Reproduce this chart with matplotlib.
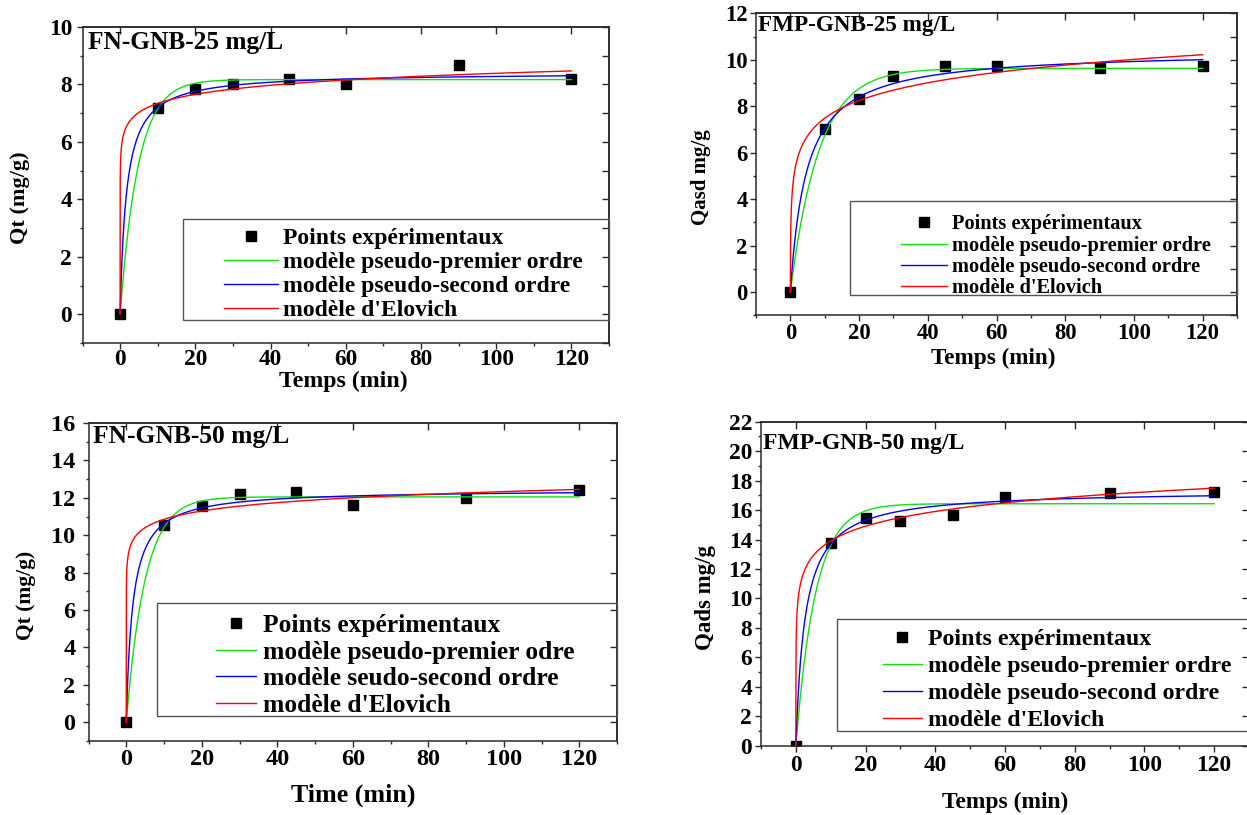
import numpy as np
import matplotlib
matplotlib.use("Agg")
import matplotlib.pyplot as plt
from matplotlib.lines import Line2D
from matplotlib.patches import Rectangle
from matplotlib.ticker import MultipleLocator

plt.rcParams['font.family'] = ['Liberation Serif', 'DejaVu Serif']
plt.rcParams['font.weight'] = 'bold'
plt.rcParams['axes.labelweight'] = 'bold'

# ---- experimental data: contact time (min) and adsorbed amount (mg/g) ----
time_min = [0, 10, 20, 30, 45, 60, 90, 120]

q_fn25 = [0, 7.18, 7.84, 8.01, 8.18, 8.0, 8.68, 8.18]
q_fmp25 = [0, 7.0, 8.31, 9.31, 9.73, 9.73, 9.63, 9.73]
q_fn50 = [0, 10.54, 11.57, 12.18, 12.32, 11.59, 12.0, 12.41]
q_fmp50 = [0, 13.78, 15.43, 15.27, 15.68, 16.9, 17.13, 17.22]

sample_names = ["FN-GNB-25 mg/L", "FMP-GNB-25 mg/L", "FN-GNB-50 mg/L", "FMP-GNB-50 mg/L"]

# ---- fitted kinetic parameters (same order as sample_names) ----
pfo_qe = [8.17, 9.63, 12.05, 16.43]       # pseudo-first order qe (mg/g)
pfo_k1 = [0.208, 0.12, 0.20, 0.176]       # k1 (1/min)
pso_qe = [8.42, 10.4, 12.45, 17.35]       # pseudo-second order qe (mg/g)
pso_k2 = [0.070, 0.0202, 0.0466, 0.0216]  # k2 (g/mg/min)
elo_alpha = [4.7e5, 99.0, 1.34e6, 2241.0] # Elovich alpha (mg/g/min)
elo_beta = [2.2, 0.909, 1.553, 0.694]     # Elovich beta (g/mg)

legend_labels = [
    ["Points expérimentaux", "modèle pseudo-premier ordre", "modèle pseudo-second ordre", "modèle d'Elovich"],
    ["Points expérimentaux", "modèle pseudo-premier ordre", "modèle pseudo-second ordre", "modèle d'Elovich"],
    ["Points expérimentaux", "modèle pseudo-premier odre", "modèle seudo-second ordre", "modèle d'Elovich"],
    ["Points expérimentaux", "modèle pseudo-premier ordre", "modèle pseudo-second ordre", "modèle d'Elovich"],
]
x_labels = ["Temps (min)", "Temps (min)", "Time (min)", "Temps (min)"]
y_labels = ["Qt (mg/g)", "Qasd mg/g", "Qt (mg/g)", "Qads mg/g"]
series = [q_fn25, q_fmp25, q_fn50, q_fmp50]
y_limits = [(-1, 10), (-1, 12), (-1, 16), (0, 22)]

W, H = 1247, 815
fig = plt.figure(figsize=(W / 100, H / 100), dpi=100)


def fx(x):
    return x / W


def fy(y):
    return 1 - y / H


# layout of each panel in pixels
layout = [
    dict(rect=(82.5, 27, 609, 343), tfs=16.8, lfs=17.0, xlfs=17.2, ylfs=16.0, ttl_fs=18.3,
         ypad=3.5, xpad=0.5, title=(88, 42), xlab=(343, 381), ylab=(20, 198),
         box=(183, 219, 609, 320), hx=(224, 278), tx=283, rows=(237, 309), rowfac=0.91),
    dict(rect=(756, 13.3, 1237, 315.3), tfs=16.3, lfs=14.7, xlfs=16.7, ylfs=15.0, ttl_fs=16.7,
         ypad=2.0, xpad=1.5, title=(758, 26), xlab=(993, 358), ylab=(701, 177),
         box=(850, 201, 1237, 295), hx=(901, 947), tx=952, rows=(223, 287), rowfac=0.98),
    dict(rect=(88.5, 423, 617, 741), tfs=17.5, lfs=18.4, xlfs=18.7, ylfs=15.5, ttl_fs=18.4,
         ypad=5.3, xpad=2.0, title=(93, 437), xlab=(353, 795), ylab=(26, 595),
         box=(157, 603, 617, 716), hx=(216, 256), tx=263, rows=(624, 703), rowfac=0.89),
    dict(rect=(761, 421.7, 1249, 745.7), tfs=16.8, lfs=17.2, xlfs=16.9, ylfs=16.5, ttl_fs=17.0,
         ypad=2.4, xpad=3.0, title=(763, 443), xlab=(1005, 802), ylab=(705, 597),
         box=(837, 619, 1255, 731), hx=(883, 922), tx=928, rows=(638, 718), rowfac=0.90),
]

t_fit = np.concatenate([[0.0], np.logspace(-4, np.log10(120), 800)])
spine_col = '#2a2a2a'

for i, lay in enumerate(layout):
    l, t, r, b = lay['rect']
    ax = fig.add_axes([fx(l), fy(b), (r - l) / W, (b - t) / H])
    ax.set_xlim(-10, 130)
    ax.set_ylim(*y_limits[i])

    q_pfo = pfo_qe[i] * (1 - np.exp(-pfo_k1[i] * t_fit))
    q_pso = pso_qe[i] ** 2 * pso_k2[i] * t_fit / (1 + pso_qe[i] * pso_k2[i] * t_fit)
    q_elo = np.log(1 + elo_alpha[i] * elo_beta[i] * t_fit) / elo_beta[i]

    ax.plot(time_min, series[i], 's', color='black', ms=7, zorder=2)
    ax.plot(t_fit, q_pfo, color='#10e010', lw=1.0, zorder=3)
    ax.plot(t_fit, q_pso, color='#0000ff', lw=1.0, zorder=3)
    ax.plot(t_fit, q_elo, color='#ff0000', lw=1.0, zorder=3)

    ax.xaxis.set_major_locator(MultipleLocator(20))
    ax.xaxis.set_minor_locator(MultipleLocator(10))
    ax.yaxis.set_major_locator(MultipleLocator(2))
    ax.yaxis.set_minor_locator(MultipleLocator(1))
    ax.tick_params(axis='both', which='major', direction='out', length=4, width=1.0,
                   color=spine_col, labelsize=lay['tfs'])
    ax.tick_params(axis='both', which='minor', direction='out', length=2.5, width=1.0,
                   color=spine_col)
    ax.tick_params(axis='y', which='major', pad=lay['ypad'])
    ax.tick_params(axis='x', which='major', pad=lay['xpad'])
    for lab in ax.get_xticklabels() + ax.get_yticklabels():
        lab.set_fontweight('bold')
    ax.set_yticks([v for v in ax.get_yticks() if y_limits[i][0] <= v <= y_limits[i][1] and v >= 0])

    # inward ticks on the opposite spines
    top = ax.secondary_xaxis('top')
    top.xaxis.set_major_locator(MultipleLocator(20))
    top.tick_params(direction='in', length=5, width=1.0, color=spine_col, labeltop=False)
    right = ax.secondary_yaxis('right')
    right.yaxis.set_major_locator(MultipleLocator(1 if i < 2 else 2))
    right.tick_params(direction='in', length=5, width=1.0, color=spine_col, labelright=False)
    for sp in list(ax.spines.values()) + [top.spines['top'], right.spines['right']]:
        sp.set_color(spine_col)
        sp.set_linewidth(1.1)

    ax.set_xlabel(x_labels[i], fontsize=lay['xlfs'], fontweight='bold')
    ax.xaxis.set_label_coords(fx(lay['xlab'][0]), fy(lay['xlab'][1]), transform=fig.transFigure)
    ax.xaxis.label.set_va('center')
    ax.set_ylabel(y_labels[i], fontsize=lay['ylfs'], fontweight='bold')
    ax.yaxis.set_label_coords(fx(lay['ylab'][0]), fy(lay['ylab'][1]), transform=fig.transFigure)
    ax.yaxis.label.set_va('center')

    fig.text(fx(lay['title'][0]), fy(lay['title'][1]), sample_names[i], fontsize=lay['ttl_fs'],
             fontweight='bold', ha='left', va='center', zorder=5)

    # legend frame
    bl, bt, br, bb = lay['box']
    fig.add_artist(Rectangle((fx(bl), fy(bb)), (br - bl) / W, (bb - bt) / H,
                             transform=fig.transFigure, fill=False, edgecolor='#555555',
                             lw=1.0, zorder=4))
    fs_px = lay['lfs'] * 100 / 72
    row_sp = (lay['rows'][1] - lay['rows'][0]) / 3
    handles = [Line2D([], [], marker='s', ls='none', color='black', ms=7),
               Line2D([], [], color='#10e010', lw=1.0),
               Line2D([], [], color='#0000ff', lw=1.0),
               Line2D([], [], color='#ff0000', lw=1.0)]
    row_h = lay['rowfac'] * fs_px
    leg = ax.legend(handles, legend_labels[i], loc='upper left',
                    bbox_to_anchor=(fx(lay['hx'][0]), fy(lay['rows'][0] - row_h / 2 + 1.5)),
                    bbox_transform=fig.transFigure, frameon=False,
                    prop=dict(family='Liberation Serif', weight='bold', size=lay['lfs']),
                    handlelength=(lay['hx'][1] - lay['hx'][0]) / fs_px,
                    handletextpad=(lay['tx'] - lay['hx'][1]) / fs_px,
                    labelspacing=(row_sp - row_h) / fs_px,
                    borderpad=0, borderaxespad=0)
    leg.set_zorder(6)

fig.savefig("out.png", dpi=100)
